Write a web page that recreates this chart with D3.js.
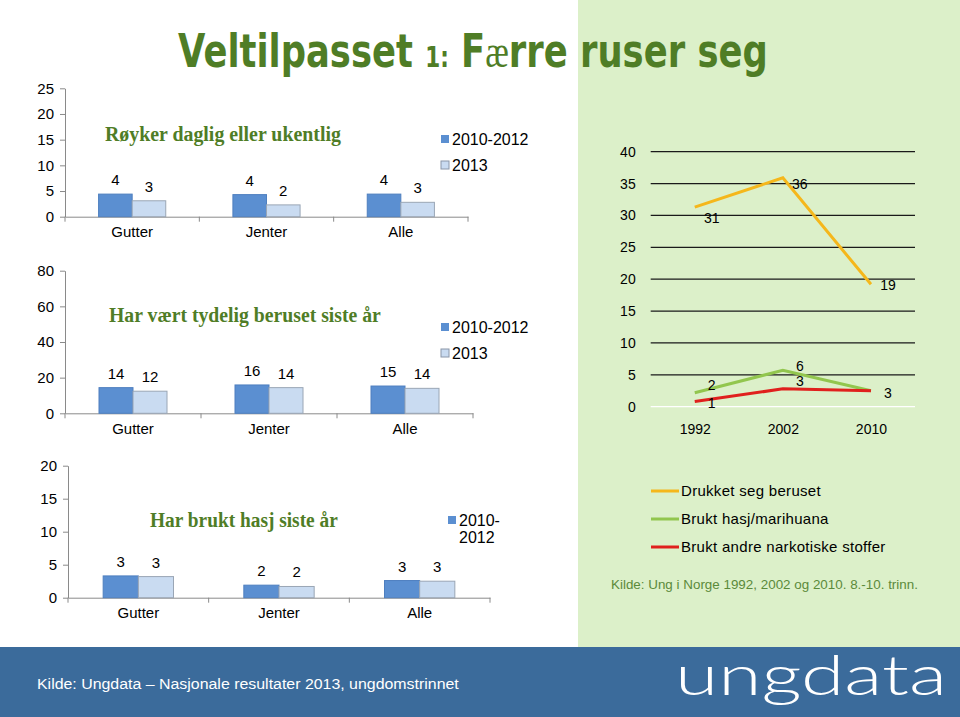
<!DOCTYPE html>
<html>
<head>
<meta charset="utf-8">
<script src="https://cdn.jsdelivr.net/npm/d3@7"></script>
<style>
  body { margin: 0; background: #fff; }
  svg text { font-family: Arial, "Liberation Sans", sans-serif; }
</style>
</head>
<body>
<div id="chart"></div>
<script>
// bar charts: Ungdata 2010-2012 vs 2013
const categories = ["Gutter", "Jenter", "Alle"];
const seriesNames = ["2010-2012", "2013"];

const smoke2010 = [4.4, 4.3, 4.4];
const smoke2013 = [3.1, 2.3, 2.8];
const drunk2010 = [14.4, 15.9, 15.3];
const drunk2013 = [12.4, 14.4, 14.0];
const hash2010 = [3.3, 1.9, 2.6];
const hash2013 = [3.2, 1.7, 2.5];

const smokeTicks = [0, 5, 10, 15, 20, 25];
const drunkTicks = [0, 20, 40, 60, 80];
const hashTicks = [0, 5, 10, 15, 20];

// line chart: Ung i Norge
const years = ["1992", "2002", "2010"];
const drunkLine = [31.3, 35.9, 19.2];
const hashLine = [2.2, 5.7, 2.5];
const otherLine = [0.8, 2.8, 2.5];
const lineTicks = [0, 5, 10, 15, 20, 25, 30, 35, 40];
const lineNames = ["Drukket seg beruset", "Brukt hasj/marihuana", "Brukt andre narkotiske stoffer"];

const W = 960, H = 717;
const darkBlue = "#5b8fd1", lightBlue = "#c9dbf1";
const titleGreen = "#4f7d26";

const svg = d3.select("#chart").append("svg")
  .attr("width", W).attr("height", H);

// right green panel + footer
svg.append("rect").attr("x", 578).attr("y", 0).attr("width", W - 578).attr("height", 647).attr("fill", "#dcf0c9");
svg.append("rect").attr("x", 0).attr("y", 647).attr("width", W).attr("height", H - 647).attr("fill", "#3b6b9b");

function fitWidth(sel, x, w) {
  const bw = sel.node().getBBox().width;
  sel.attr("transform", `translate(${x},0) scale(${w / bw},1) translate(${-x},0)`);
}

// main title
const title = svg.append("text")
  .attr("x", 178).attr("y", 67)
  .attr("fill", titleGreen)
  .style("font-family", "'DejaVu Sans', sans-serif")
  .style("font-weight", "bold")
  .style("font-size", "46px");
title.append("tspan").text("Veltilpasset ");
title.append("tspan").style("font-size", "28px").text("1:");
title.append("tspan").text(" F");
title.append("tspan").style("font-family", "'Liberation Serif', serif").style("font-weight", "normal").text("æ");
title.append("tspan").text("rre ruser seg");
fitWidth(title, 178, 590);

function barChart(cfg) {
  const g = svg.append("g");
  const y = d3.scaleLinear().domain([0, d3.max(cfg.ticks)]).range(cfg.yRange);
  const x0 = d3.scaleBand().domain(categories).range(cfg.xRange);
  const bw = x0.bandwidth();
  const x1 = d3.scaleBand().domain(seriesNames).range([bw / 4, bw * 3 / 4]);
  const rows = categories.map((c, i) => ({ cat: c, vals: [cfg.a[i], cfg.b[i]] }));

  const yAxis = g.append("g")
    .attr("transform", `translate(${cfg.xRange[0]},0)`)
    .call(d3.axisLeft(y).tickValues(cfg.ticks).tickSize(5).tickSizeOuter(0).tickPadding(6));
  yAxis.selectAll("text").style("font-size", "15px").attr("fill", "#000");
  yAxis.selectAll("line,path").attr("stroke", "#8a8a8a");

  const xAxis = g.append("g")
    .attr("transform", `translate(0,${cfg.yRange[0]})`)
    .call(d3.axisBottom(x0).tickSize(0).tickPadding(10));
  xAxis.select("path").attr("stroke", "#8a8a8a");
  xAxis.selectAll("text").style("font-size", "15px").attr("fill", "#000");
  const bounds = categories.map(c => x0(c)).concat([cfg.xRange[1]]);
  xAxis.selectAll(".bound").data(bounds).enter().append("line")
    .attr("x1", d => d).attr("x2", d => d).attr("y1", 0).attr("y2", 5)
    .attr("stroke", "#8a8a8a");

  const grp = g.selectAll(".grp").data(rows).enter().append("g")
    .attr("transform", d => `translate(${x0(d.cat)},0)`);
  grp.selectAll("rect").data(d => d.vals.map((v, k) => ({ s: seriesNames[k], v: v, k: k })))
    .enter().append("rect")
    .attr("x", d => x1(d.s))
    .attr("y", d => y(d.v))
    .attr("width", x1.bandwidth())
    .attr("height", d => y(0) - y(d.v))
    .attr("fill", d => d.k === 0 ? darkBlue : lightBlue)
    .attr("stroke", d => d.k === 0 ? "#4e7fbf" : "#9aa6b5")
    .attr("stroke-width", 1);
  grp.selectAll(".lbl").data(d => d.vals.map((v, k) => ({ s: seriesNames[k], v: v })))
    .enter().append("text")
    .attr("x", d => x1(d.s) + x1.bandwidth() / 2)
    .attr("y", d => y(d.v) - 9)
    .attr("text-anchor", "middle")
    .style("font-size", "15px")
    .text(d => Math.round(d.v));

  g.append("text")
    .attr("x", cfg.title[0]).attr("y", cfg.title[1])
    .attr("fill", titleGreen)
    .style("font-family", "'Liberation Serif', 'DejaVu Serif', serif")
    .style("font-weight", "bold")
    .style("font-size", "20px")
    .text(cfg.titleText)
    .call(s => fitWidth(s, cfg.title[0], cfg.title[2]));

  // legend
  cfg.legend.forEach((lines, k) => {
    const ly = cfg.legendY + k * 26;
    g.append("rect")
      .attr("x", cfg.legendX).attr("y", ly - 4).attr("width", 8).attr("height", 8)
      .attr("fill", k === 0 ? darkBlue : lightBlue)
      .attr("stroke", k === 0 ? "none" : "#8a96a8");
    const t = g.append("text").attr("x", cfg.legendX + 11).attr("y", ly + 6).style("font-size", "16px");
    lines.forEach((ln, j) => t.append("tspan").attr("x", cfg.legendX + 11).attr("dy", j ? 17 : 0).text(ln));
  });
}

barChart({
  a: smoke2010, b: smoke2013, ticks: smokeTicks,
  xRange: [65, 468], yRange: [216.7, 88.3],
  titleText: "Røyker daglig eller ukentlig", title: [105, 141, 236],
  legend: [["2010-2012"], ["2013"]], legendX: 441, legendY: 139
});
barChart({
  a: drunk2010, b: drunk2013, ticks: drunkTicks,
  xRange: [65, 473], yRange: [413.3, 270.7],
  titleText: "Har vært tydelig beruset siste år", title: [109, 322, 272],
  legend: [["2010-2012"], ["2013"]], legendX: 441, legendY: 327
});
barChart({
  a: hash2010, b: hash2013, ticks: hashTicks,
  xRange: [68, 490], yRange: [597.7, 465.7],
  titleText: "Har brukt hasj siste år", title: [150, 527, 188],
  legend: [["2010-", "2012"]], legendX: 448, legendY: 520
});

// line chart
const lg = svg.append("g");
const ly = d3.scaleLinear().domain([0, 40]).range([406.7, 151.7]);
const lx = d3.scalePoint().domain(years).range([650.7, 915]).padding(0.5);
const lineColors = ["#f5b71b", "#92c64e", "#e0201d"];
const lineData = [drunkLine, hashLine, otherLine];

lg.selectAll(".grid").data(lineTicks).enter().append("line")
  .attr("x1", 650.7).attr("x2", 915)
  .attr("y1", d => ly(d)).attr("y2", d => ly(d))
  .attr("stroke", d => d === 0 ? "#ffffff" : "#1a1a1a")
  .attr("stroke-width", 1.3);
const lyAxis = lg.append("g").attr("transform", "translate(650.7,0)")
  .call(d3.axisLeft(ly).tickValues(lineTicks).tickSize(0).tickPadding(15));
lyAxis.select("path").remove();
lyAxis.selectAll("text").style("font-size", "14px").attr("fill", "#000");
const lxAxis = lg.append("g").attr("transform", "translate(0,406.7)")
  .call(d3.axisBottom(lx).tickSize(0).tickPadding(17));
lxAxis.select("path").remove();
lxAxis.selectAll("text").style("font-size", "14px").attr("fill", "#000");

const line = d3.line().x((d, i) => lx(years[i])).y(d => ly(d));
const labelDy = [[11, 6, 1], [-8, -4, 2], [1, -8, 2]];
const placed = [];
lineData.forEach((vals, s) => {
  lg.append("path").attr("d", line(vals))
    .attr("fill", "none").attr("stroke", lineColors[s]).attr("stroke-width", 3);
  vals.forEach((d, i) => {
    const tx = lx(years[i]) + 17, ty = ly(d) + labelDy[s][i] + 5;
    // Excel labels that coincide are drawn on top of each other: keep one
    if (placed.some(p => Math.abs(p[0] - tx) < 4 && Math.abs(p[1] - ty) < 6)) return;
    placed.push([tx, ty]);
    lg.append("text").attr("x", tx).attr("y", ty)
      .attr("text-anchor", "middle").style("font-size", "14px").text(Math.round(d));
  });
});

// line legend
lineNames.forEach((n, s) => {
  const yy = 491 + s * 28;
  lg.append("line").attr("x1", 651).attr("x2", 679).attr("y1", yy).attr("y2", yy)
    .attr("stroke", lineColors[s]).attr("stroke-width", 3);
  lg.append("text").attr("x", 681).attr("y", yy + 5)
    .style("font-size", "15px").style("letter-spacing", "0.3px").text(n);
});
lg.append("text").attr("x", 611).attr("y", 589)
  .attr("fill", "#5b8a3a").style("font-size", "12px")
  .text("Kilde: Ung i Norge 1992, 2002 og 2010. 8.-10. trinn.")
  .call(s => fitWidth(s, 611, 307));

// footer
svg.append("text").attr("x", 37).attr("y", 689)
  .attr("fill", "#fff").style("font-size", "15px")
  .text("Kilde: Ungdata – Nasjonale resultater 2013, ungdomstrinnet")
  .call(s => fitWidth(s, 37, 423));
svg.append("text").attr("x", 675).attr("y", 695)
  .attr("fill", "#fff")
  .style("font-family", "Lato, 'Open Sans', sans-serif")
  .style("font-weight", "300")
  .style("font-size", "56px")
  .text("ungdata")
  .call(s => fitWidth(s, 675, 272));
</script>
</body>
</html>
